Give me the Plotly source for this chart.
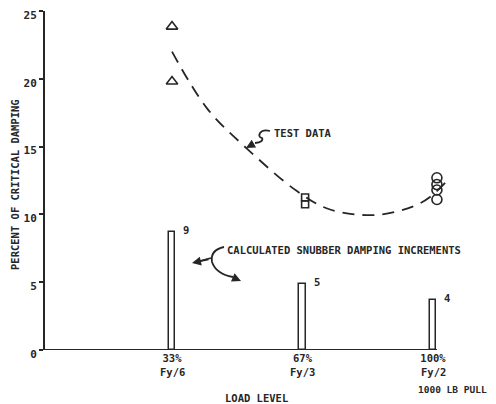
import plotly.graph_objects as go

# ---- data ----
categories = [1, 2, 3]
tick_labels = ["33%", "67%", "100%"]
tick_sublabels = ["Fy/6", "Fy/3", "Fy/2"]
y_ticks = [0, 5, 10, 15, 20, 25]
bar_values = [8.7, 4.9, 3.7]
bar_labels = ["9", "5", "4"]

tri_x = [1.0, 1.0]
tri_y = [23.85, 19.8]
sq_x = [2.02, 2.02]
sq_y = [11.25, 10.75]
circ_x = [3.03, 3.03, 3.03, 3.03]
circ_y = [12.7, 12.2, 11.8, 11.1]

curve_x = [1.0, 1.27, 1.58, 1.96, 2.2, 2.55, 2.85, 2.98, 3.13]
curve_y = [22.0, 17.8, 14.8, 11.7, 10.4, 9.95, 10.6, 11.3, 12.7]

INK = "#262626"
FONT = "DejaVu Sans Mono"

# The page body adds an 8px offset; figure is sized so that the plot area
# lands at page pixels x 45..452, y 11..350.
OFF = 8

fig = go.Figure()

fig.add_trace(go.Bar(x=categories, y=bar_values, width=0.05,
                     marker=dict(color="white", line=dict(color=INK, width=1.5)),
                     showlegend=False, hoverinfo="skip"))

fig.add_trace(go.Scatter(x=curve_x, y=curve_y, mode="lines",
                         line=dict(color=INK, width=1.8, dash="12px,8px", shape="spline", smoothing=1.0),
                         showlegend=False, hoverinfo="skip"))

fig.add_trace(go.Scatter(x=tri_x, y=tri_y, mode="markers",
                         marker=dict(symbol="triangle-up-open", size=10, color=INK, line=dict(width=1.6)),
                         showlegend=False, cliponaxis=False))
fig.add_trace(go.Scatter(x=sq_x, y=sq_y, mode="markers",
                         marker=dict(symbol="square-open", size=7, color=INK, line=dict(width=1.6)),
                         showlegend=False, cliponaxis=False))
fig.add_trace(go.Scatter(x=circ_x, y=circ_y, mode="markers",
                         marker=dict(symbol="circle-open", size=10, color=INK, line=dict(width=1.6)),
                         showlegend=False, cliponaxis=False))

# page-pixel helpers for decorations
def px2x(px):
    return 1 + (px - 172) / 130.5

def py2y(py):
    return (350 - py) / 13.56

def px2p(px):
    return (px - 45) / 407

def py2p(py):
    return (350 - py) / 339

TF = dict(family=FONT, size=10.5, color=INK, weight="bold")

annotations = []
for c, v, lab in zip(categories, bar_values, bar_labels):
    annotations.append(dict(x=c, y=v, text=lab, showarrow=False, xshift=14, yshift=2, font=TF))

for c, sub in zip(categories, tick_sublabels):
    annotations.append(dict(x=c, xref="x", yref="paper", y=py2p(372), text=sub, showarrow=False,
                            xanchor="center", yanchor="middle", font=TF))

annotations += [
    dict(x=px2x(272), y=py2y(133), text="TEST DATA", showarrow=False, xanchor="left", font=TF),
    dict(x=px2x(225), y=py2y(250), text="CALCULATED SNUBBER DAMPING INCREMENTS", showarrow=False,
         xanchor="left", font=TF),
    # arrowheads
    dict(x=px2x(246), y=py2y(148), ax=px2x(255), ay=py2y(143), axref="x", ayref="y",
         text="", showarrow=True, arrowhead=2, arrowsize=1, arrowwidth=1.8, arrowcolor=INK),
    dict(x=px2x(192), y=py2y(263), ax=px2x(210), ay=py2y(259), axref="x", ayref="y",
         text="", showarrow=True, arrowhead=2, arrowsize=1, arrowwidth=1.8, arrowcolor=INK),
    dict(x=px2x(241), y=py2y(281), ax=px2x(232), ay=py2y(277), axref="x", ayref="y",
         text="", showarrow=True, arrowhead=2, arrowsize=1, arrowwidth=1.8, arrowcolor=INK),
    # axis texts
    dict(xref="paper", yref="paper", x=px2p(256), y=py2p(398), text="LOAD LEVEL",
         showarrow=False, xanchor="center", yanchor="middle", font=TF),
    dict(xref="paper", yref="paper", x=px2p(489), y=py2p(389), text="1000 LB PULL",
         showarrow=False, xanchor="right", yanchor="middle",
         font=dict(family=FONT, size=9.5, color=INK, weight="bold")),
    dict(xref="paper", yref="paper", x=px2p(15), y=py2p(185), text="PERCENT OF CRITICAL DAMPING",
         showarrow=False, textangle=-90, xanchor="center", yanchor="middle", font=TF),
]

shapes = [
    # x axis line
    dict(type="line", xref="x", yref="y", x0=px2x(45), x1=px2x(437), y0=0, y1=0,
         line=dict(color=INK, width=2)),
    # S-squiggle for TEST DATA arrow
    dict(type="path", xref="x", yref="y",
         path=(f"M {px2x(270)},{py2y(131)} Q {px2x(263)},{py2y(129)} {px2x(260)},{py2y(133)} "
               f"Q {px2x(258)},{py2y(137)} {px2x(262)},{py2y(138)} "
               f"Q {px2x(264)},{py2y(142)} {px2x(255)},{py2y(143)}"),
         line=dict(color=INK, width=1.8)),
    # bracket curve for CALCULATED annotation
    dict(type="path", xref="x", yref="y",
         path=(f"M {px2x(224)},{py2y(247)} Q {px2x(210)},{py2y(250)} {px2x(212)},{py2y(262)} "
               f"Q {px2x(216)},{py2y(274)} {px2x(233)},{py2y(277)}"),
         line=dict(color=INK, width=1.8)),
    dict(type="line", xref="x", yref="y", x0=px2x(211), y0=py2y(258), x1=px2x(200), y1=py2y(261),
         line=dict(color=INK, width=1.8)),
]

W, H = 496 - OFF, 404 - OFF
fig.update_layout(
    width=W, height=H, autosize=False,
    margin=dict(l=45 - OFF, r=W - (452 - OFF), t=11 - OFF, b=H - (350 - OFF), pad=0),
    paper_bgcolor="white", plot_bgcolor="white",
    font=dict(family=FONT, color=INK, size=10.5),
    xaxis=dict(range=[px2x(45), px2x(452)], tickvals=categories, ticktext=tick_labels,
               showgrid=False, zeroline=False, showline=False, ticks="", ticklen=0,
               automargin=False, tickfont=TF),
    yaxis=dict(range=[0, 25], tickvals=y_ticks, showgrid=False, zeroline=False,
               showline=True, linecolor=INK, linewidth=2, ticks="outside", ticklen=4,
               tickcolor=INK, tickwidth=1.5, automargin=False, ticklabelshift=4,
               tickfont=dict(family=FONT, size=11, color=INK, weight="bold")),
    annotations=annotations, shapes=shapes, bargap=0,
)

fig.write_html("out.html")
